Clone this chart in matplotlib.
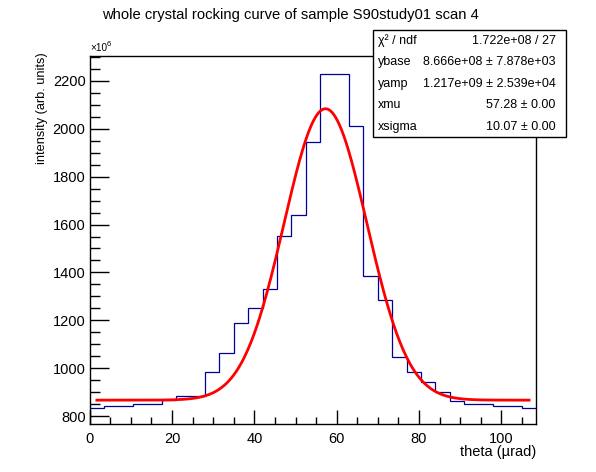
import matplotlib
matplotlib.use("Agg")
import matplotlib.pyplot as plt
import numpy as np
from matplotlib.patches import Rectangle

# ---- data (units of 1e6) ----
bin_edges_lo = 0.0
bin_edges_hi = 108.5
n_bins = 31
counts = [832, 842, 842, 850, 850, 867, 886, 886, 983, 1062, 1187, 1250,
          1329, 1551, 1640, 1944, 2228, 2228, 2011, 1384, 1285, 1047, 983,
          941, 899, 863, 850, 850, 841, 841, 832]
# fit parameters shown in stats box
ybase = 866.6
yamp = 1217.0
xmu = 57.28
xsigma = 10.07
stat_labels = ["χ² / ndf", "ybase", "yamp", "xmu", "xsigma"]
stat_values = ["1.722e+08 / 27", "8.666e+08 ± 7.878e+03", "1.217e+09 ± 2.539e+04",
               "57.28 ± 0.00", "10.07 ± 0.00"]
title = "whole crystal rocking curve of sample S90study01 scan 4"
xlabel = "theta (µrad)"
ylabel = "intensity (arb. units)"

plt.rcParams['font.family'] = ['Liberation Sans', 'DejaVu Sans']

W, H = 596, 472
fig = plt.figure(figsize=(W / 100, H / 100), dpi=100)
fig.patch.set_facecolor('white')

def fx(px):
    return px / W

def fy(py):
    return 1 - py / H

ax_l, ax_r, ax_t, ax_b = 89.7, 536.3, 55.5, 424.0
ax = fig.add_axes([fx(ax_l), fy(ax_b), fx(ax_r) - fx(ax_l), fy(ax_t) - fy(ax_b)])

edges = np.linspace(bin_edges_lo, bin_edges_hi, n_bins + 1)
ax.stairs(counts, edges, baseline=None, color='#000099', linewidth=0.9)

centers = 0.5 * (edges[:-1] + edges[1:])
xf = np.linspace(centers[0], centers[-1], 400)
yf = ybase + yamp * np.exp(-0.5 * ((xf - xmu) / xsigma) ** 2)
ax.plot(xf, yf, color='#ff0000', linewidth=2.0)

ax.set_xlim(bin_edges_lo, bin_edges_hi)
ax.set_ylim(767, 2306)
ax.set_xticks([0, 20, 40, 60, 80, 100])
ax.set_xticks(np.arange(0, 108.5, 5), minor=True)
ax.set_yticks(np.arange(800, 2300, 200))
ax.set_yticks(np.arange(800, 2306, 50), minor=True)
ax.tick_params(which='both', direction='in', top=False, right=False,
               labelsize=10.5, colors='black', width=1)
ax.tick_params(axis='x', which='major', length=10, pad=6)
ax.tick_params(axis='x', which='minor', length=5)
ax.tick_params(axis='y', which='major', length=14, pad=3)
ax.tick_params(axis='y', which='minor', length=7)
for s in ax.spines.values():
    s.set_linewidth(1)

fig.text(fx(290.5), fy(15), title, ha='center', va='center', fontsize=10.6)
fig.text(fx(536), fy(452), xlabel, ha='right', va='center', fontsize=10.5)
fig.text(fx(41.5), fy(52), ylabel, ha='center', va='top', rotation=90, fontsize=9.2)
fig.text(fx(90.5), fy(48.3), "×10", ha='left', va='center', fontsize=7.2)
fig.text(fx(106.8), fy(45), "6", ha='left', va='center', fontsize=5.5)

# stats box
bx_l, bx_r, bx_t, bx_b = 373.3, 566.3, 30.0, 137.3
fig.patches.append(Rectangle((fx(bx_l), fy(bx_b)), fx(bx_r) - fx(bx_l), fy(bx_t) - fy(bx_b),
                             transform=fig.transFigure, facecolor='white',
                             edgecolor='black', linewidth=1, zorder=5))
rh = (bx_b - bx_t) / len(stat_labels)
for i, (lab, val) in enumerate(zip(stat_labels, stat_values)):
    yc = bx_t + rh * (i + 0.5)
    fig.text(fx(377.5), fy(yc), lab, ha='left', va='center', fontsize=9, zorder=6)
    fig.text(fx(555.7), fy(yc), val, ha='right', va='center', fontsize=9, zorder=6)

fig.savefig("out.png", dpi=100)
